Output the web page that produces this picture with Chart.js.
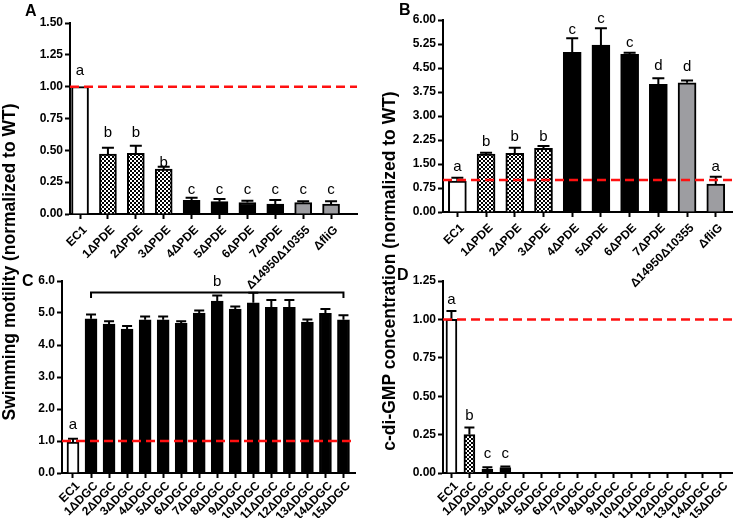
<!DOCTYPE html>
<html>
<head>
<meta charset="utf-8">
<script src="https://cdn.jsdelivr.net/npm/chart.js@4.4.1/dist/chart.umd.min.js"></script>
<style>
  body { margin: 0; background: #fff; }
  #fig { position: relative; width: 733px; height: 518px; overflow: hidden; font-family: "Liberation Sans", Arial, sans-serif; }
  canvas { position: absolute; }
  .ytitle { position: absolute; font-weight: bold; font-size: 17.5px; white-space: nowrap; transform: translate(-50%, -50%) rotate(-90deg); }
  .tag { position: absolute; font-weight: bold; font-size: 16px; }
</style>
</head>
<body>
<div id="fig">
  <canvas id="chartA" width="370" height="300" style="left:0;top:0"></canvas>
  <canvas id="chartB" width="370" height="300" style="left:363px;top:0"></canvas>
  <canvas id="chartC" width="370" height="268" style="left:0;top:250px"></canvas>
  <canvas id="chartD" width="370" height="268" style="left:363px;top:250px"></canvas>
  <div class="ytitle" style="left:9px;top:262px">Swimming motility (normalized to WT)</div>
  <div class="ytitle" style="left:389px;top:271px">c-di-GMP concentration (normalized to WT)</div>
  <div class="tag" style="left:25px;top:2px">A</div>
  <div class="tag" style="left:399px;top:1px">B</div>
  <div class="tag" style="left:22px;top:272px">C</div>
  <div class="tag" style="left:397px;top:266px">D</div>
</div>
<script>
// categories
const pdeLabels = ['EC1', '1ΔPDE', '2ΔPDE', '3ΔPDE', '4ΔPDE', '5ΔPDE', '6ΔPDE', '7ΔPDE', 'Δ14950Δ10355', 'ΔfliG']
const dgcLabels = ['EC1', '1ΔDGC', '2ΔDGC', '3ΔDGC', '4ΔDGC', '5ΔDGC', '6ΔDGC', '7ΔDGC', '8ΔDGC', '9ΔDGC', '10ΔDGC', '11ΔDGC', '12ΔDGC', '13ΔDGC', '14ΔDGC', '15ΔDGC']

// A: swimming motility, PDE mutants
const motilityPde = [1.0, 0.47, 0.476, 0.353, 0.107, 0.097, 0.09, 0.078, 0.089, 0.078]
const motilityPdeErr = [0, 0.05, 0.06, 0.018, 0.021, 0.021, 0.015, 0.032, 0.011, 0.022]
const motilityPdeSig = ['a', 'b', 'b', 'b', 'c', 'c', 'c', 'c', 'c', 'c']
const motilityPdeSigAt = [1.123, 0.634, 0.634, 0.405, 0.188, 0.188, 0.188, 0.188, 0.188, 0.188]

// B: c-di-GMP, PDE mutants
const cdgPde = [0.97, 1.81, 1.83, 1.99, 4.99, 5.22, 4.93, 3.99, 4.04, 0.875]
const cdgPdeErr = [0.1, 0.04, 0.18, 0.07, 0.44, 0.52, 0.05, 0.19, 0.07, 0.225]
const cdgPdeSig = ['a', 'b', 'b', 'b', 'c', 'c', 'c', 'd', 'd', 'a']
const cdgPdeSigAt = [1.42, 2.2, 2.35, 2.35, 5.69, 6.05, 5.29, 4.57, 4.54, 1.42]

// C: swimming motility, DGC mutants
const motilityDgc = [0.97, 4.82, 4.65, 4.5, 4.79, 4.79, 4.68, 5.0, 5.375, 5.125, 5.32, 5.18, 5.18, 4.72, 4.99, 4.79]
const motilityDgcErr = [0.1, 0.13, 0.09, 0.09, 0.1, 0.1, 0.06, 0.08, 0.175, 0.075, 0.31, 0.23, 0.23, 0.08, 0.135, 0.14]
const motilityDgcSig = ['a']
const motilityDgcSigAt = [1.52]
const bracketDgc = { from: 1, to: 15, at: 5.64, drop: 5.47, label: 'b', labelAt: 5.97 }

// D: c-di-GMP, DGC mutants (only first four measured bars visible)
const cdgDgc = [1.0, 0.25, 0.024, 0.035, null, null, null, null, null, null, null, null, null, null, null, null]
const cdgDgcErr = [0.055, 0.047, 0.013, 0.008]
const cdgDgcSig = ['a', 'b', 'c', 'c']
const cdgDgcSigAt = [1.124, 0.371, 0.126, 0.126]

const font = '"Liberation Sans", Arial, sans-serif'

function checker() {
    const c = document.createElement('canvas')
    c.width = 4
    c.height = 4
    const g = c.getContext('2d')
    g.fillStyle = '#fff'
    g.fillRect(0, 0, 4, 4)
    g.fillStyle = '#000'
    g.fillRect(0, 0, 2, 2)
    g.fillRect(2, 2, 2, 2)
    return g.createPattern(c, 'repeat')
}
const fills = { white: '#fff', check: checker(), black: '#000', grey: '#9d9da1' }
const pdeFill = ['white', 'check', 'check', 'check', 'black', 'black', 'black', 'black', 'grey', 'grey']
const dgcFillC = ['white'].concat(Array(15).fill('black'))
const dgcFillD = ['white', 'check', 'black', 'black'].concat(Array(12).fill('black'))

const figurePlugin = {
    id: 'figure',
    afterDatasetsDraw(chart, args, opts) {
        const { ctx, chartArea, scales: { x, y } } = chart
        const pts = chart.data.datasets[0].data
        ctx.save()
        ctx.strokeStyle = '#000'
        ctx.lineWidth = 2
        pts.forEach((p, i) => {
            if (p.y == null || !opts.err[i]) return
            const px = x.getPixelForValue(p.x)
            const top = y.getPixelForValue(p.y + opts.err[i])
            ctx.beginPath()
            ctx.moveTo(px, y.getPixelForValue(p.y))
            ctx.lineTo(px, top)
            ctx.moveTo(px - opts.cap, top)
            ctx.lineTo(px + opts.cap, top)
            ctx.stroke()
        })
        if (opts.bracket) {
            const b = opts.bracket
            const x1 = x.getPixelForValue(b.from), x2 = x.getPixelForValue(b.to)
            const yb = y.getPixelForValue(b.at), yd = y.getPixelForValue(b.drop)
            ctx.beginPath()
            ctx.moveTo(x1, yd)
            ctx.lineTo(x1, yb)
            ctx.lineTo(x2, yb)
            ctx.lineTo(x2, yd)
            ctx.stroke()
        }
        // reference line at WT level
        ctx.strokeStyle = '#ff1010'
        ctx.lineWidth = 2.5
        ctx.setLineDash([9, 5])
        const ry = y.getPixelForValue(1)
        ctx.beginPath()
        ctx.moveTo(chartArea.left, ry)
        ctx.lineTo(chartArea.right, ry)
        ctx.stroke()
        ctx.setLineDash([])
        ctx.fillStyle = '#000'
        ctx.font = '15px ' + font
        ctx.textAlign = 'center'
        ctx.textBaseline = 'middle'
        opts.sig.forEach((s, i) => ctx.fillText(s, x.getPixelForValue(i), y.getPixelForValue(opts.sigAt[i])))
        if (opts.bracket) {
            const b = opts.bracket
            ctx.fillText(b.label, (x.getPixelForValue(b.from) + x.getPixelForValue(b.to)) / 2, y.getPixelForValue(b.labelAt))
        }
        ctx.restore()
    }
}

function makeChart(id, labels, values, fillKeys, o) {
    const data = values.map((v, i) => ({ x: i, y: v }))
    const tickFont = { family: font, size: 12, weight: 'bold' }
    return new Chart(document.getElementById(id), {
        type: 'bar',
        data: {
            datasets: [{
                data,
                backgroundColor: fillKeys.map(k => fills[k]),
                borderColor: '#000',
                borderWidth: 2,
                borderSkipped: 'bottom',
                barThickness: o.barW
            }]
        },
        options: {
            responsive: false,
            animation: false,
            devicePixelRatio: 1,
            layout: { padding: { left: 0, top: o.top, right: o.right, bottom: 0 } },
            plugins: {
                legend: { display: false },
                tooltip: { enabled: false },
                figure: { err: o.err, sig: o.sig, sigAt: o.sigAt, cap: o.cap, bracket: o.bracket }
            },
            scales: {
                x: {
                    type: 'linear',
                    offset: false,
                    min: o.xMin,
                    max: o.xMax,
                    afterBuildTicks: s => { s.ticks = labels.map((l, i) => ({ value: i })) },
                    afterFit: s => { s.height = o.xH },
                    ticks: { callback: v => labels[v], minRotation: 45, maxRotation: 45, autoSkip: false, font: tickFont, color: '#000', padding: o.labPad, labelOffset: 5 },
                    grid: { offset: false, drawOnChartArea: false, tickLength: 5, tickWidth: 2, tickColor: '#000' },
                    border: { color: '#000', width: 2 }
                },
                y: {
                    min: 0,
                    max: o.yMax,
                    afterFit: s => { s.width = o.yW },
                    ticks: { stepSize: o.step, callback: v => v.toFixed(o.dec), font: tickFont, color: '#000', padding: 2 },
                    grid: { drawOnChartArea: false, tickLength: 5, tickWidth: 2, tickColor: '#000' },
                    border: { color: '#000', width: 2 }
                }
            }
        },
        plugins: [figurePlugin]
    })
}

makeChart('chartA', pdeLabels, motilityPde, pdeFill, {
    err: motilityPdeErr, sig: motilityPdeSig, sigAt: motilityPdeSigAt, cap: 6,
    barW: 17, xMin: -0.36, xMax: 9.93, yMax: 1.5, step: 0.25, dec: 2,
    top: 23, right: 13, yW: 70, xH: 86, labPad: 4
})
makeChart('chartB', pdeLabels, cdgPde, pdeFill, {
    err: cdgPdeErr, sig: cdgPdeSig, sigAt: cdgPdeSigAt, cap: 6,
    barW: 18, xMin: -0.5, xMax: 9.6, yMax: 6, step: 0.75, dec: 2,
    top: 20, right: 0, yW: 80, xH: 88, labPad: 4
})
makeChart('chartC', dgcLabels, motilityDgc, dgcFillC, {
    err: motilityDgcErr, sig: motilityDgcSig, sigAt: motilityDgcSigAt, cap: 5, bracket: bracketDgc,
    barW: 12, xMin: -0.61, xMax: 15.64, yMax: 6, step: 0.5, dec: 1,
    top: 31, right: 15, yW: 62, xH: 45, labPad: 1
})
makeChart('chartD', dgcLabels, cdgDgc, dgcFillD, {
    err: cdgDgcErr, sig: cdgDgcSig, sigAt: cdgDgcSigAt, cap: 5,
    barW: 11, xMin: -0.47, xMax: 15.67, yMax: 1.25, step: 0.25, dec: 2,
    top: 31, right: 0, yW: 80, xH: 45, labPad: 1
})
</script>
</body>
</html>
